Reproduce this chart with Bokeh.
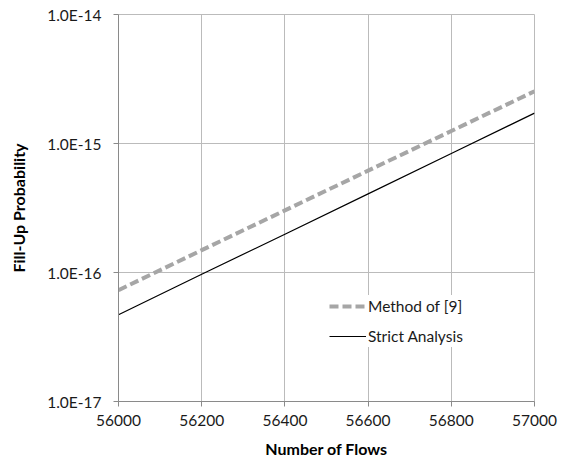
from bokeh.plotting import figure
from bokeh.models import FixedTicker, CustomJSTickFormatter, Legend, LegendItem, Range1d
from bokeh.embed import file_html
from bokeh.resources import INLINE

# Fill-up probability versus number of flows
flows = [56000, 56200, 56400, 56600, 56800, 57000]
method9 = [7.3e-17, 1.49e-16, 3.03e-16, 6.16e-16, 1.25e-15, 2.54e-15]
strict = [4.7e-17, 9.7e-17, 1.98e-16, 4.07e-16, 8.36e-16, 1.72e-15]

x_ticks = [56000, 56200, 56400, 56600, 56800, 57000]
y_ticks = [1e-17, 1e-16, 1e-15, 1e-14]

FONT = "Lato"
GRID = "#BBBBBB"
AXIS = "#8A8A8A"

p = figure(
    width=562, height=461,
    y_axis_type="log",
    x_range=Range1d(56000, 57000),
    y_range=Range1d(1e-17, 1e-14),
    output_backend="svg", toolbar_location=None,
    min_border_left=118, min_border_right=28,
    min_border_top=14, min_border_bottom=60,
)
p.outline_line_color = GRID
p.background_fill_color = "white"
p.border_fill_color = "white"

r1 = p.line(flows, method9, line_color="#A6A6A6", line_width=4, line_dash="9 4")
r2 = p.line(flows, strict, line_color="black", line_width=1.2)

p.xaxis.ticker = FixedTicker(ticks=x_ticks)
p.yaxis.ticker = FixedTicker(ticks=y_ticks, minor_ticks=[])
p.yaxis.formatter = CustomJSTickFormatter(
    code="return tick.toExponential(1).toUpperCase();"
)

for ax in (p.xaxis[0], p.yaxis[0]):
    ax.axis_line_color = AXIS
    ax.major_tick_line_color = AXIS
    ax.major_tick_out = 5
    ax.major_tick_in = 0
    ax.minor_tick_line_color = None
    ax.major_label_text_font = FONT
    ax.major_label_text_font_size = "15.5px"
    ax.major_label_text_color = "#1a1a1a"
    ax.axis_label_text_font = FONT
    ax.axis_label_text_font_style = "bold"
    ax.axis_label_text_font_size = "16px"
    ax.axis_label_text_color = "black"

p.xaxis.axis_label = "Number of Flows"
p.yaxis.axis_label = "Fill-Up Probability"
p.xaxis.major_label_standoff = 8
p.yaxis.major_label_standoff = 12
p.xaxis.axis_label_standoff = 10
p.yaxis.axis_label_standoff = 16

p.xgrid.grid_line_color = GRID
p.ygrid.grid_line_color = GRID
p.xgrid.ticker = FixedTicker(ticks=x_ticks)
p.ygrid.ticker = FixedTicker(ticks=y_ticks)

legend = Legend(
    items=[LegendItem(label="Method of [9]", renderers=[r1]),
           LegendItem(label="Strict Analysis", renderers=[r2])],
    location=(211, 54),
    glyph_width=37, glyph_height=22, label_height=22,
    label_standoff=2, spacing=8, padding=4,
    border_line_color=None, background_fill_alpha=1.0,
    label_text_font=FONT, label_text_font_size="15.5px",
    label_text_color="#1a1a1a",
)
p.add_layout(legend)

open("out.html", "w").write(file_html(p, INLINE))
